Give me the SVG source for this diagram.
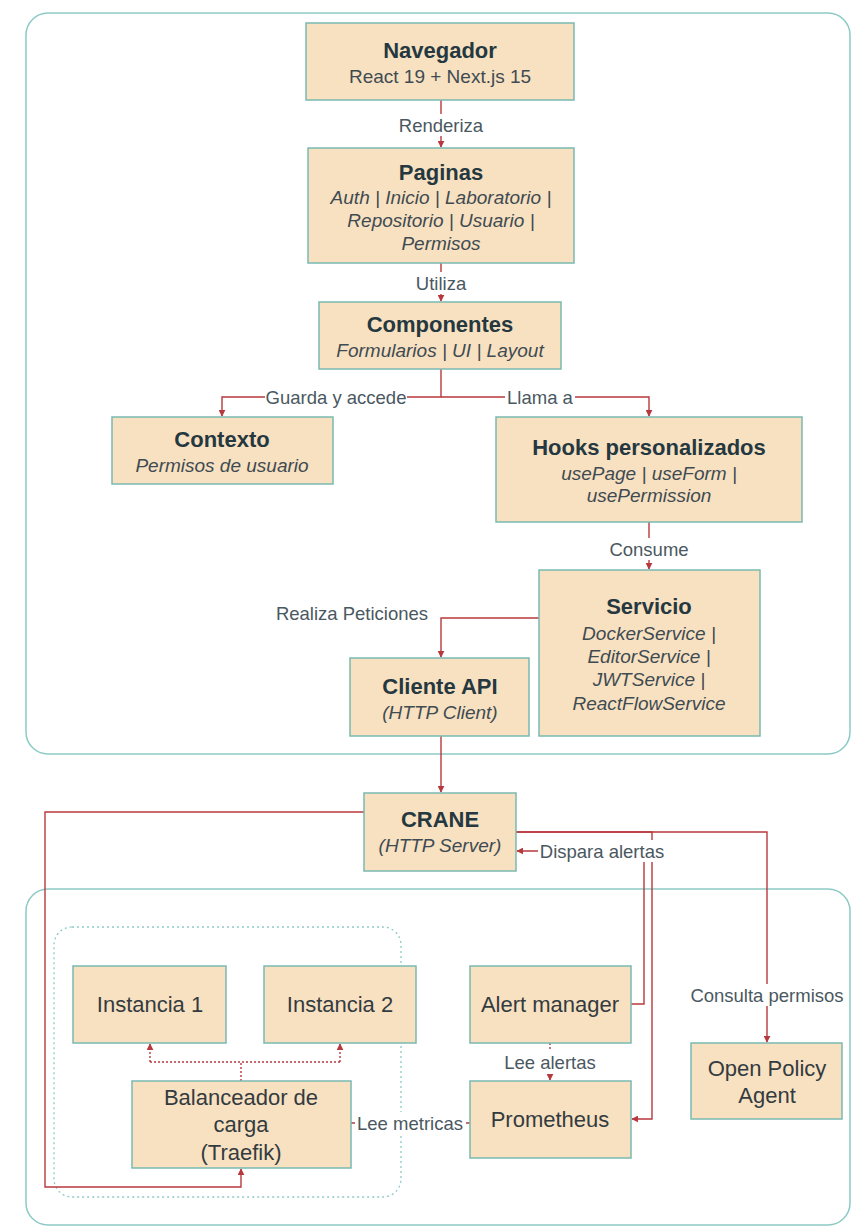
<svg xmlns="http://www.w3.org/2000/svg" width="853" height="1227" viewBox="0 0 853 1227">
<style>
.box{fill:#f8e1c1;stroke:#79b9b1;stroke-width:1.5}
.cont{fill:none;stroke:#8ccac6;stroke-width:1.5}
.dot{fill:none;stroke:#8ccac6;stroke-width:1.3;stroke-dasharray:2 3}
.t{font-family:"Liberation Sans",Arial,sans-serif;font-weight:bold;font-size:22px;fill:#25383f;text-anchor:middle}
.s{font-family:"Liberation Sans",Arial,sans-serif;font-size:19px;fill:#3f4b52;text-anchor:middle}
.i{font-style:italic}
.n{font-family:"Liberation Sans",Arial,sans-serif;font-size:22px;fill:#333b40;text-anchor:middle}
.l{font-family:"Liberation Sans",Arial,sans-serif;font-size:18.5px;fill:#4a585f;text-anchor:middle}
.c{fill:none;stroke:#b8393d;stroke-width:1.4}
.cd{fill:none;stroke:#b8393d;stroke-width:1.4;stroke-dasharray:2 2}
.bg{fill:#ffffff}
</style>
<defs>
<marker id="ah" viewBox="0 0 10 10" refX="9" refY="5" markerWidth="7" markerHeight="7" markerUnits="userSpaceOnUse" orient="auto">
<path d="M0,0 L10,5 L0,10 z" fill="#b8393d"/>
</marker>
</defs>
<rect width="853" height="1227" fill="#ffffff"/>
<g id="containers">
<rect class="cont" x="26" y="13" width="824" height="741" rx="22"/>
<rect class="cont" x="26" y="889" width="824" height="336" rx="22"/>
<rect class="dot" x="54" y="927" width="347" height="270" rx="18"/>
</g>
<g id="connectors">
<path class="c" d="M441,100 V147" marker-end="url(#ah)"/>
<path class="c" d="M441,263 V301" marker-end="url(#ah)"/>
<path class="c" d="M441,369 V397 H222 V416" marker-end="url(#ah)"/>
<path class="c" d="M441,397 H649 V416" marker-end="url(#ah)"/>
<path class="c" d="M649,522 V569" marker-end="url(#ah)"/>
<path class="c" d="M539,618 H441 V657" marker-end="url(#ah)"/>
<path class="c" d="M441,736 V792" marker-end="url(#ah)"/>
<path class="c" d="M364,812 H45 V1187 H241 V1169" marker-end="url(#ah)"/>
<path class="c" d="M516,832 H767 V1042" marker-end="url(#ah)"/>
<path class="c" d="M516,832 H652 V1119 H632" marker-end="url(#ah)"/>
<path class="c" d="M631,1004 H644 V851 H517" marker-end="url(#ah)"/>
<path class="cd" d="M241,1081 V1062 M150,1062 H340"/>
<path class="cd" d="M150,1062 V1044" marker-end="url(#ah)"/>
<path class="cd" d="M340,1062 V1044" marker-end="url(#ah)"/>
<path class="cd" d="M550,1043 V1080" marker-end="url(#ah)"/>
<path class="c" d="M351,1123 H470"/>
<g id="labels">
<rect class="bg" x="395" y="114" width="92" height="22"/>
<text class="l" x="441" y="132">Renderiza</text>
<rect class="bg" x="411" y="272" width="60" height="22"/>
<text class="l" x="441" y="290">Utiliza</text>
<rect class="bg" x="265" y="386" width="142" height="22"/>
<text class="l" x="336" y="404">Guarda y accede</text>
<rect class="bg" x="505" y="386" width="70" height="22"/>
<text class="l" x="540" y="404">Llama a</text>
<rect class="bg" x="605" y="538" width="88" height="22"/>
<text class="l" x="649" y="556">Consume</text>
<text class="l" x="352" y="620">Realiza Peticiones</text>
<rect class="bg" x="538" y="840" width="128" height="22"/>
<text class="l" x="602" y="858">Dispara alertas</text>
<rect class="bg" x="686" y="984" width="162" height="22"/>
<text class="l" x="767" y="1002">Consulta permisos</text>
<rect class="bg" x="503" y="1051" width="94" height="22"/>
<text class="l" x="550" y="1069">Lee alertas</text>
<rect class="bg" x="355" y="1112" width="111" height="22"/>
<text class="l" x="410" y="1130">Lee metricas</text>
</g>
</g>
<g id="navegador">
<rect class="box" x="306" y="23" width="268" height="77"/>
<text class="t" x="440" y="58">Navegador</text>
<text class="s" x="440" y="83">React 19 + Next.js 15</text>
</g>
<g id="paginas">
<rect class="box" x="308" y="148" width="266" height="115"/>
<text class="t" x="441" y="180">Paginas</text>
<text class="s i" x="441" y="204">Auth | Inicio | Laboratorio |</text>
<text class="s i" x="441" y="227">Repositorio | Usuario |</text>
<text class="s i" x="441" y="250">Permisos</text>
</g>
<g id="componentes">
<rect class="box" x="319" y="302" width="242" height="67"/>
<text class="t" x="440" y="332">Componentes</text>
<text class="s i" x="440" y="357">Formularios | UI | Layout</text>
</g>
<g id="contexto">
<rect class="box" x="112" y="417" width="221" height="67"/>
<text class="t" x="222" y="447">Contexto</text>
<text class="s i" x="222" y="472">Permisos de usuario</text>
</g>
<g id="hooks">
<rect class="box" x="496" y="417" width="306" height="105"/>
<text class="t" x="649" y="455">Hooks personalizados</text>
<text class="s i" x="649" y="480">usePage | useForm |</text>
<text class="s i" x="649" y="502">usePermission</text>
</g>
<g id="servicio">
<rect class="box" x="539" y="570" width="221" height="166"/>
<text class="t" x="649" y="614">Servicio</text>
<text class="s i" x="649" y="640">DockerService |</text>
<text class="s i" x="649" y="663">EditorService |</text>
<text class="s i" x="649" y="686">JWTService |</text>
<text class="s i" x="649" y="710">ReactFlowService</text>
</g>
<g id="cliente-api">
<rect class="box" x="350" y="658" width="179" height="78"/>
<text class="t" x="440" y="694">Cliente API</text>
<text class="s i" x="440" y="719">(HTTP Client)</text>
</g>
<g id="crane">
<rect class="box" x="364" y="793" width="152" height="78"/>
<text class="t" x="440" y="827">CRANE</text>
<text class="s i" x="440" y="852">(HTTP Server)</text>
</g>
<g id="instancia-1">
<rect class="box" x="73" y="966" width="153" height="77"/>
<text class="n" x="150" y="1012">Instancia 1</text>
</g>
<g id="instancia-2">
<rect class="box" x="264" y="966" width="152" height="77"/>
<text class="n" x="340" y="1012">Instancia 2</text>
</g>
<g id="alert-manager">
<rect class="box" x="470" y="966" width="161" height="77"/>
<text class="n" x="550" y="1012">Alert manager</text>
</g>
<g id="opa">
<rect class="box" x="691" y="1043" width="151" height="76"/>
<text class="n" x="767" y="1076">Open Policy</text>
<text class="n" x="767" y="1103">Agent</text>
</g>
<g id="balanceador">
<rect class="box" x="132" y="1081" width="219" height="87"/>
<text class="n" x="241" y="1105">Balanceador de</text>
<text class="n" x="241" y="1132">carga</text>
<text class="n" x="241" y="1160">(Traefik)</text>
</g>
<g id="prometheus">
<rect class="box" x="470" y="1081" width="161" height="77"/>
<text class="n" x="550" y="1127">Prometheus</text>
</g>
</svg>
